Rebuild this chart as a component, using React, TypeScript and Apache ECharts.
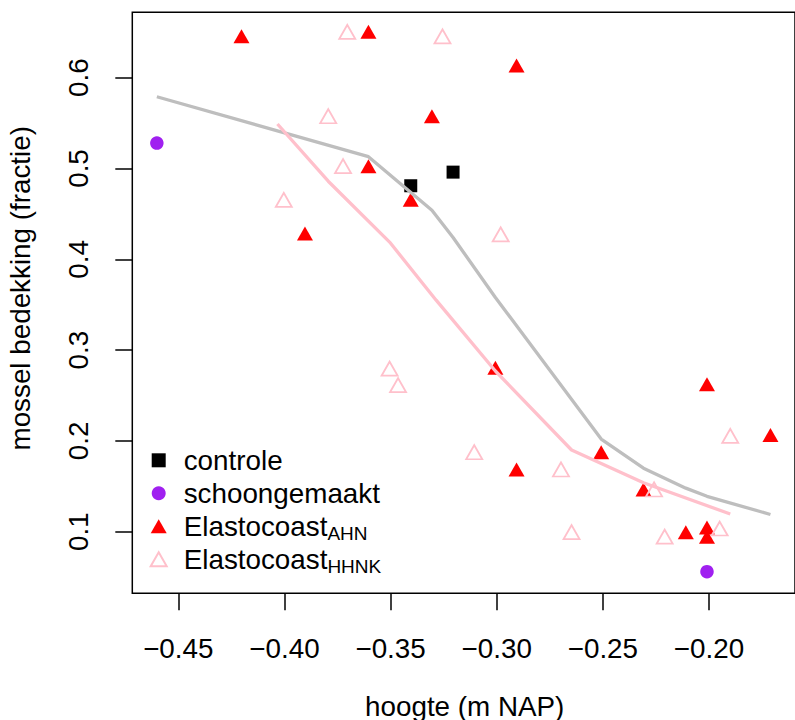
import React, { useEffect, useRef } from 'react';
import * as echarts from 'echarts';

// ---- data ----
const controleX = [-0.34, -0.32];
const controleY = [0.481, 0.496];

const schoonX = [-0.46, -0.2];
const schoonY = [0.528, 0.056];

const ahnX = [-0.42, -0.36, -0.29, -0.33, -0.36, -0.34, -0.39, -0.3, -0.29, -0.25, -0.23, -0.21, -0.2, -0.2, -0.2, -0.17];
const ahnY = [0.643, 0.648, 0.611, 0.555, 0.5, 0.463, 0.426, 0.278, 0.166, 0.185, 0.144, 0.097, 0.102, 0.092, 0.26, 0.204];

const hhnkX = [-0.37, -0.325, -0.379, -0.372, -0.4, -0.2975, -0.35, -0.346, -0.31, -0.269, -0.264, -0.225, -0.22, -0.194, -0.189];
const hhnkY = [0.648, 0.643, 0.555, 0.5, 0.463, 0.425, 0.277, 0.259, 0.185, 0.166, 0.097, 0.144, 0.092, 0.101, 0.203];

const grayX = [-0.46, -0.36, -0.33, -0.32, -0.3, -0.25, -0.23, -0.21, -0.2, -0.17];
const grayY = [0.579, 0.513, 0.454, 0.424, 0.358, 0.202, 0.17, 0.148, 0.139, 0.119];

const pinkX = [-0.403, -0.379, -0.35, -0.328, -0.3, -0.264, -0.23, -0.189];
const pinkY = [0.549, 0.486, 0.419, 0.355, 0.277, 0.19, 0.154, 0.1195];

const xTickMin = -0.45;
const xTickMax = -0.2;
const xTickStep = 0.05;
const yTickMin = 0.1;
const yTickMax = 0.6;
const yTickStep = 0.1;

const xRange = [-0.4716, -0.1584];
const yRange = [0.0322, 0.672];

const legendNames = ['controle', 'schoongemaakt', 'Elastocoast_AHN', 'Elastocoast_HHNK'];
const xTitle = 'hoogte (m NAP)';
const yTitle = 'mossel bedekking (fractie)';

const FONT = '"Liberation Sans", Arial, Helvetica, sans-serif';
const FS = 27.8;

const pairs = (xs: number[], ys: number[]) => xs.map((x, i) => [x, ys[i]]);

export default function App() {
  const ref = useRef<HTMLDivElement>(null);

  useEffect(() => {
    if (!ref.current) return;
    const chart = echarts.init(ref.current, null, { renderer: 'svg' });
    const triSize = [16, 14];
    const triOffset = [0, -2.3];

    chart.setOption({
      animation: false,
      backgroundColor: '#ffffff',
      textStyle: { fontFamily: FONT },
      grid: [
        {
          left: 132.3,
          top: 12.3,
          width: 665.2,
          height: 581,
          show: true,
          borderColor: '#000',
          borderWidth: 1.5,
          backgroundColor: 'transparent',
        },
        { left: 178.3, top: 77.7, width: 530.7, height: 454, show: false },
      ],
      xAxis: [
        { type: 'value', gridIndex: 0, min: xRange[0], max: xRange[1], show: false },
        {
          type: 'value',
          gridIndex: 1,
          min: xTickMin,
          max: xTickMax,
          interval: xTickStep,
          position: 'bottom',
          offset: 61.6,
          axisLine: { show: false },
          axisTick: { show: true, length: 17, lineStyle: { color: '#000', width: 1.5 } },
          splitLine: { show: false },
          axisLabel: {
            margin: 42,
            fontSize: FS,
            lineHeight: 27,
            color: '#000',
            fontFamily: FONT,
            formatter: (v: number) => (v < 0 ? '\u2212' : '') + Math.abs(v).toFixed(2),
          },
        },
      ],
      yAxis: [
        { type: 'value', gridIndex: 0, min: yRange[0], max: yRange[1], show: false },
        {
          type: 'value',
          gridIndex: 1,
          min: yTickMin,
          max: yTickMax,
          interval: yTickStep,
          position: 'left',
          offset: 46,
          axisLine: { show: false },
          axisTick: { show: true, length: 17, lineStyle: { color: '#000', width: 1.5 } },
          splitLine: { show: false },
          axisLabel: {
            rotate: 90,
            margin: 40,
            fontSize: FS,
            lineHeight: 27,
            color: '#000',
            fontFamily: FONT,
            formatter: (v: number) => v.toFixed(1),
          },
        },
      ],
      legend: {
        orient: 'vertical',
        left: 149.7,
        top: 443.8,
        padding: 0,
        itemGap: 0,
        itemWidth: 16,
        itemHeight: 14,
        selectedMode: false,
        data: [
          { name: legendNames[0], icon: 'path://M0,0H10V10H0Z' },
          { name: legendNames[1], icon: 'circle' },
          { name: legendNames[2], icon: 'triangle' },
          { name: legendNames[3], icon: 'triangle' },
        ],
        formatter: (name: string) => {
          const parts = name.split('_');
          if (parts.length === 2) return `{a|${parts[0]}}{s|${parts[1]}}`;
          return `{a|${name}}`;
        },
        textStyle: {
          color: '#000',
          fontFamily: FONT,
          fontSize: FS,
          lineHeight: 33,
          height: 33,
          backgroundColor: 'rgba(255,255,255,0)',
          rich: {
            a: { fontSize: FS, lineHeight: 33, padding: [0, 0, 0, 12], color: '#000', fontFamily: FONT },
            s: { fontSize: 19, lineHeight: 17, verticalAlign: 'bottom', color: '#000', fontFamily: FONT },
          },
        },
      },
      series: [
        {
          name: legendNames[0],
          type: 'scatter',
          xAxisIndex: 0,
          yAxisIndex: 0,
          symbol: 'rect',
          symbolSize: 13,
          itemStyle: { color: '#000000', opacity: 1 },
          data: pairs(controleX, controleY),
          z: 2,
        },
        {
          name: legendNames[1],
          type: 'scatter',
          xAxisIndex: 0,
          yAxisIndex: 0,
          symbol: 'circle',
          symbolSize: 13.5,
          itemStyle: { color: '#A020F0', opacity: 1 },
          data: pairs(schoonX, schoonY),
          z: 2,
        },
        {
          name: legendNames[2],
          type: 'scatter',
          xAxisIndex: 0,
          yAxisIndex: 0,
          symbol: 'triangle',
          symbolSize: triSize,
          symbolOffset: triOffset,
          itemStyle: { color: '#FF0000', opacity: 1 },
          data: pairs(ahnX, ahnY),
          z: 2,
        },
        {
          name: legendNames[3],
          type: 'scatter',
          xAxisIndex: 0,
          yAxisIndex: 0,
          symbol: 'triangle',
          symbolSize: triSize,
          symbolOffset: triOffset,
          itemStyle: { color: 'rgba(255,255,255,0)', borderColor: '#FFC0CB', borderWidth: 1.8, opacity: 1 },
          data: pairs(hhnkX, hhnkY),
          z: 2,
        },
        {
          name: 'trend_controle',
          type: 'line',
          xAxisIndex: 0,
          yAxisIndex: 0,
          symbol: 'none',
          lineStyle: { color: '#BEBEBE', width: 3.3 },
          data: pairs(grayX, grayY),
          z: 3,
        },
        {
          name: 'trend_HHNK',
          type: 'line',
          xAxisIndex: 0,
          yAxisIndex: 0,
          symbol: 'none',
          lineStyle: { color: '#FFC0CB', width: 3.3 },
          data: pairs(pinkX, pinkY),
          z: 3,
        },
      ],
      graphic: [
        {
          type: 'text',
          x: 464.7,
          y: 706,
          style: {
            text: xTitle,
            fontSize: FS,
            fontFamily: FONT,
            fill: '#000',
            align: 'center',
            verticalAlign: 'middle',
          },
        },
        {
          type: 'text',
          x: 20,
          y: 288.3,
          rotation: Math.PI / 2,
          style: {
            text: yTitle,
            fontSize: FS,
            fontFamily: FONT,
            fill: '#000',
            align: 'center',
            verticalAlign: 'middle',
          },
        },
      ],
    });

    return () => chart.dispose();
  }, []);

  return (
    <div
      ref={ref}
      style={{ position: 'absolute', left: 0, top: 0, width: 795, height: 720, background: '#fff' }}
    />
  );
}
